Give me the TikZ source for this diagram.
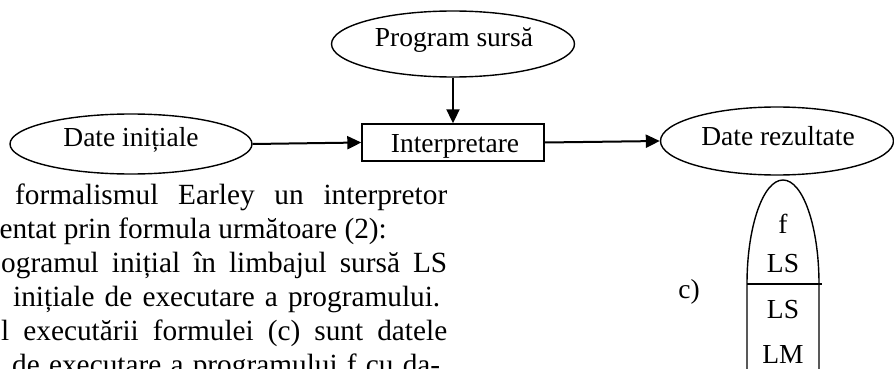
\documentclass[tikz,border=0pt]{standalone}
\usepackage{fontspec}
\setmainfont{Liberation Serif}
\usetikzlibrary{arrows.meta,shapes.geometric}
\begin{document}
\begin{tikzpicture}[x=1pt,y=-1pt,
  shapeline/.style={line width=1.4pt},
  ell/.style={ellipse, draw, line width=1.4pt, inner sep=0pt},
  box/.style={rectangle, draw, line width=1.4pt, inner sep=0pt},
  lbl/.style={font=\fontsize{27.5}{32}\selectfont, inner sep=0pt, anchor=base},
  para/.style={font=\fontsize{29.3}{34}\selectfont, inner sep=0pt},
  conn/.style={line width=2pt, -{Triangle[length=14pt,width=13pt]}}
]
\useasboundingbox (0,0) rectangle (894,369);
\begin{scope}
\clip (0,0) rectangle (894,369);
% diagram shapes
\node[ell, minimum width=243pt, minimum height=66pt] (ps) at (453,44) {};
\node[lbl] (pst) at (454,47) {Program sursă};
\node[ell, minimum width=242pt, minimum height=60pt] (di) at (131,144) {};
\node[lbl] (dit) at (131,146) {Date inițiale};
\node[box, minimum width=182pt, minimum height=37pt] (ip) at (453,142.5) {};
\node[lbl] (ipt) at (455,152) {Interpretare};
\node[ell, minimum width=233pt, minimum height=68pt] (dr) at (777,141) {};
\node[lbl] (drt) at (778,145) {Date rezultate};
% connectors
\draw[conn] (ps.south) -- (ip.north);
\draw[conn] (di.east) -- (ip.west);
\draw[conn] (ip.east) -- (dr.west);
% bullet-shaped figure
\draw[shapeline] (747,372) -- (747,284) arc[start angle=180,end angle=0,x radius=36pt,y radius=104pt] -- (819,372);
\draw[shapeline] (747,284) -- (822,284);
\node[lbl] (bf) at (783,233) {f};
\node[lbl] (bls1) at (783,272) {LS};
\node[lbl] (bls2) at (783,318) {LS};
\node[lbl] (blm) at (783,363) {LM};
\node[lbl] (cl) at (689,298) {c)};
% paragraph text (cut at the left)
\node[para, anchor=base west] (p1) at (15,204) {\makebox[432pt][s]{formalismul Earley un interpretor}};
\node[para, anchor=base east] (p2) at (387,238) {entat prin formula următoare (2):};
\node[para, anchor=base west] (p3) at (1,272) {\makebox[446pt][s]{ogramul inițial în limbajul sursă LS}};
\node[para, anchor=base west] (p4) at (13,306) {\makebox[427pt][s]{inițiale de executare a programului.}};
\node[para, anchor=base west] (p5) at (1,340) {\makebox[446pt][s]{l executării formulei (c) sunt datele}};
\node[para, anchor=base west] (p6) at (12,374) {\makebox[428pt][s]{de executare a programului f cu da-}};
\end{scope}
\end{tikzpicture}
\end{document}
